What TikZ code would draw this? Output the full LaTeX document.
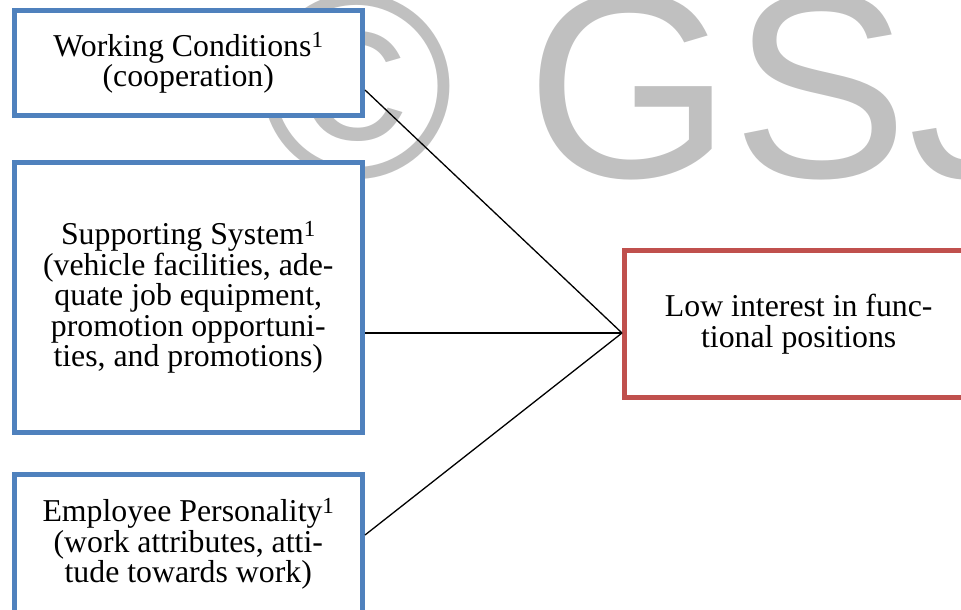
\documentclass[tikz,border=0pt]{standalone}
\usepackage{fontspec}
\setmainfont{Liberation Serif}
\newfontfamily\wmfont{Liberation Sans}
\usetikzlibrary{positioning}
\definecolor{facb}{RGB}{79,129,189}
\definecolor{resr}{RGB}{192,80,77}
\definecolor{wmg}{RGB}{192,192,192}
\newcommand\supone{\raisebox{8.5pt}{\fontsize{23}{23}\selectfont 1}}

\begin{document}
\begin{tikzpicture}[x=1pt,y=-1pt,font=\fontsize{31.8}{30.5}\selectfont,
  fac/.style={draw=facb,line width=5pt,fill=white,align=center,inner sep=0pt,minimum width=348.5pt},
  res/.style={draw=resr,line width=5pt,fill=white,align=center,inner sep=0pt,minimum width=348.5pt,minimum height=147pt},
  txt/.style={align=center,inner sep=0pt,anchor=north},
  lnk/.style={line width=1.3pt}]
  \useasboundingbox (0,0) rectangle (961,610);
  % watermark behind everything
  \node[anchor=base west,inner sep=0pt,text=wmg,font=\wmfont\fontsize{264}{264}\selectfont] (wmk) at (259,177) {© GSJ};
  % left column: the three factors
  \node[fac,minimum height=105pt] (wc) at (188.25,63) {Working Conditions\supone\\(cooperation)};
  \node[fac,minimum height=270pt] (ss) at (188.25,297.5)
    {Supporting System\supone\\(vehicle facilities, ade-\\quate job equipment,\\promotion opportuni-\\ties, and promotions)};
  \node[fac,minimum height=270pt,
    label={[txt,yshift=-26pt]north:{Employee Personality\supone\\(work attributes, atti-\\tude towards work)}}] (ep) at (188.25,609.5) {};
  % right: the outcome
  \node[res] (li) at (798.75,324) {Low interest in func-\\tional positions};
  \coordinate (hub) at ([yshift=-9pt]li.west);
  \draw[lnk] ([yshift=-27pt]wc.east) -- (hub);
  \draw[lnk] ([yshift=-35.5pt]ss.east) -- (hub);
  \draw[lnk] ([yshift=74.5pt]ep.east) -- (hub);
\end{tikzpicture}
\end{document}
